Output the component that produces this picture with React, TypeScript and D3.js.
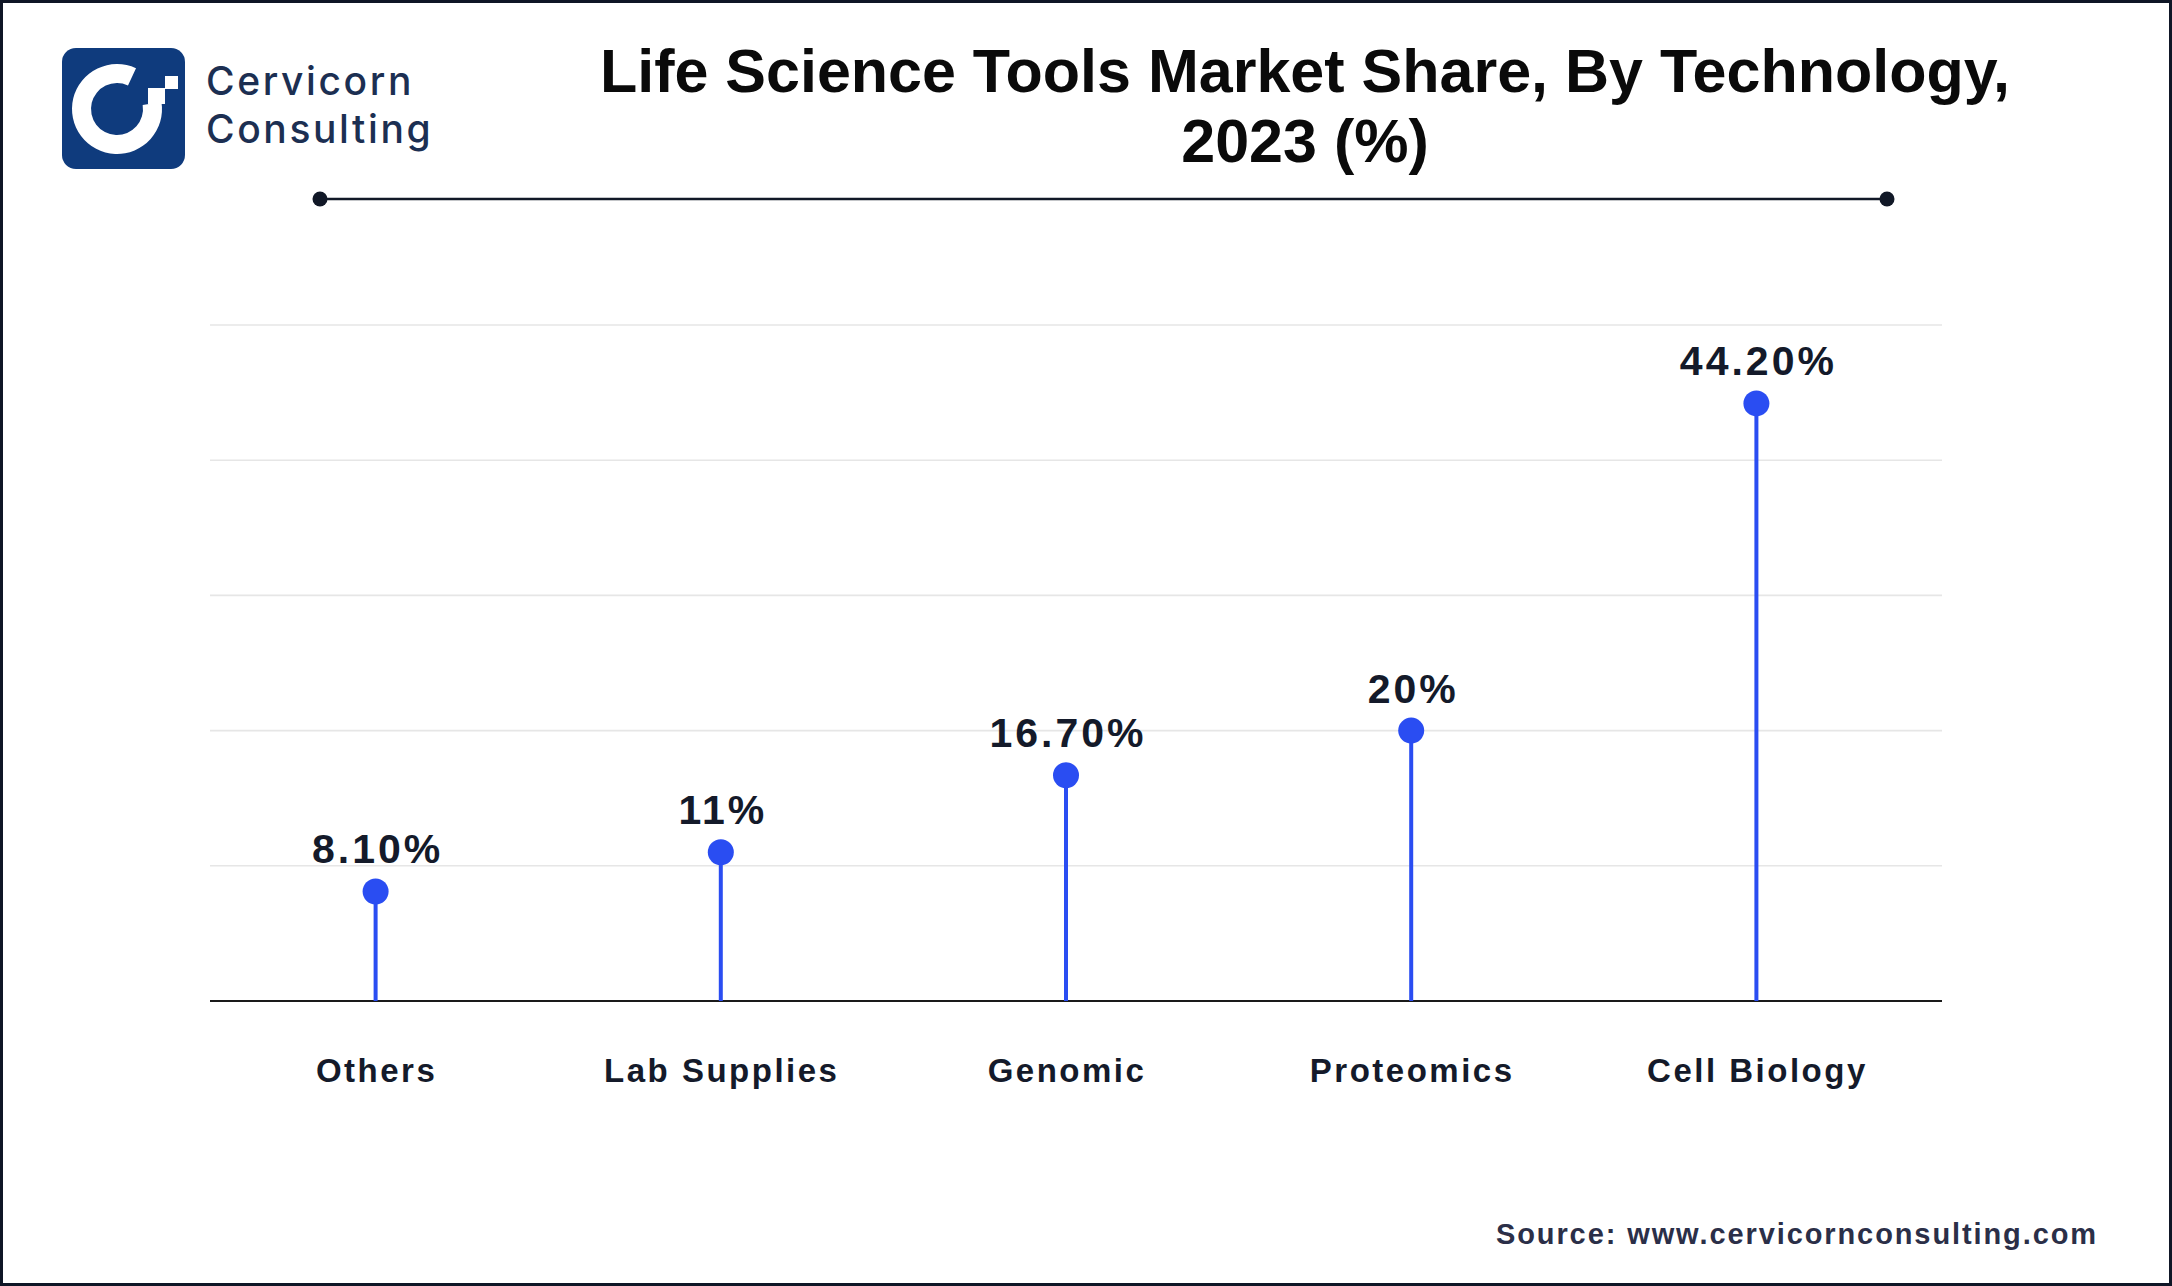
import React, { useEffect } from "react";
import * as d3 from "d3";

const categories = ["Others", "Lab Supplies", "Genomic", "Proteomics", "Cell Biology"];
const shares = [8.1, 11, 16.7, 20, 44.2];
const shareLabels = ["8.10%", "11%", "16.70%", "20%", "44.20%"];
const gridTicks = [0, 10, 20, 30, 40, 50];

const W = 2172;
const H = 1286;
const BLUE = "#2a4df2";
const INK = "#141a2a";
const NAVY = "#0f3b7d";

const App = () => {
  useEffect(() => {
    document.body.style.margin = "0";
  }, []);

  // plot frame
  const left = 210;
  const right = 1942;
  const yScale = d3.scaleLinear().domain([0, 50]).range([1001, 325]);
  const xScale = d3.scalePoint<string>().domain(categories).range([203, 1929]).padding(0.5);

  // logo "C" ring with an opening in the upper right
  const ring = d3
    .arc()
    .innerRadius(26)
    .outerRadius(45)
    .startAngle((81 * Math.PI) / 180)
    .endAngle((385 * Math.PI) / 180);

  const sans = "'Liberation Sans', Arial, sans-serif";
  const logoFont = "Inter, 'Open Sans', sans-serif";

  return (
    <svg width={W} height={H} viewBox={`0 0 ${W} ${H}`} style={{ display: "block" }}>
      <rect x={0} y={0} width={W} height={H} fill="#ffffff" />
      <rect x={1.5} y={1.5} width={W - 3} height={H - 3} fill="none" stroke="#0f1626" strokeWidth={3} />

      {/* logo */}
      <g>
        <rect x={62} y={48} width={123} height={121} rx={14} fill={NAVY} />
        <path d={ring({} as any) || ""} transform="translate(117,109)" fill="#ffffff" />
        <rect x={148} y={88} width={17} height={16} fill="#ffffff" />
        <rect x={165} y={76} width={13} height={13} fill="#ffffff" />
        <text x={206} y={95} fontFamily={logoFont} fontWeight={500} fontSize={39} letterSpacing={2.6} fill="#1c2f52">
          Cervicorn
        </text>
        <text x={206} y={143} fontFamily={logoFont} fontWeight={500} fontSize={39} letterSpacing={2.6} fill="#1c2f52">
          Consulting
        </text>
      </g>

      {/* title */}
      <g fontFamily={sans} fontWeight={700} fontSize={61} fill="#0a0a0a" textAnchor="middle">
        <text x={1305} y={92}>Life Science Tools Market Share, By Technology,</text>
        <text x={1305} y={162}>2023 (%)</text>
      </g>
      <line x1={320} x2={1887} y1={199} y2={199} stroke="#111827" strokeWidth={2.5} />
      <circle cx={320} cy={199} r={7.5} fill="#111827" />
      <circle cx={1887} cy={199} r={7.5} fill="#111827" />

      {/* grid */}
      {gridTicks.slice(1).map((t) => (
        <line key={`g-${t}`} x1={left} x2={right} y1={yScale(t)} y2={yScale(t)} stroke="#e6e6e6" strokeWidth={1.6} />
      ))}
      <line x1={left} x2={right} y1={yScale(0)} y2={yScale(0)} stroke="#1a1a1a" strokeWidth={2.2} />

      {/* lollipops */}
      {categories.map((c, i) => {
        const x = xScale(c) as number;
        const y = yScale(shares[i]);
        return (
          <g key={c}>
            <line x1={x} x2={x} y1={yScale(0)} y2={y} stroke={BLUE} strokeWidth={4} />
            <circle cx={x} cy={y} r={13} fill={BLUE} />
            <text
              x={x + 2}
              y={y - 28}
              textAnchor="middle"
              fontFamily={sans}
              fontWeight={700}
              fontSize={41}
              letterSpacing={3}
              fill={INK}
            >
              {shareLabels[i]}
            </text>
            <text
              x={x + 1}
              y={1082}
              textAnchor="middle"
              fontFamily={sans}
              fontWeight={700}
              fontSize={33}
              letterSpacing={2.5}
              fill={INK}
            >
              {c}
            </text>
          </g>
        );
      })}

      {/* source */}
      <text
        x={2098}
        y={1244}
        textAnchor="end"
        fontFamily={sans}
        fontWeight={700}
        fontSize={29}
        letterSpacing={1.9}
        fill="#2b2f48"
      >
        Source: www.cervicornconsulting.com
      </text>
    </svg>
  );
};

export default App;
